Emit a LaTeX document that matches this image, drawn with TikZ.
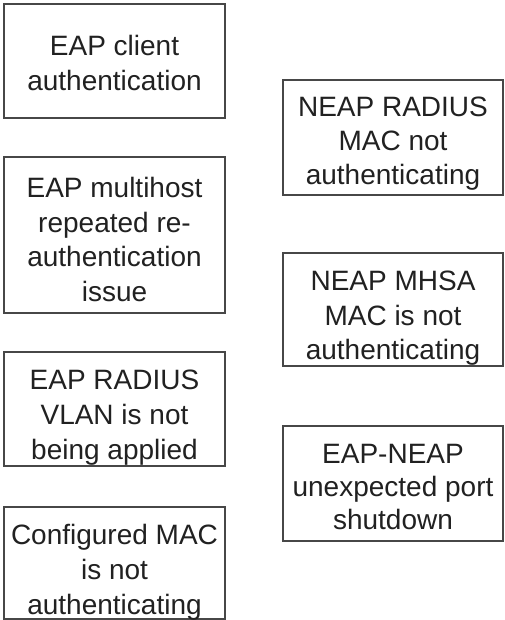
\documentclass[tikz,border=0pt]{standalone}
\usepackage{fontspec}
\setmainfont{Liberation Sans}
\definecolor{boxline}{gray}{0.28}
\definecolor{boxtext}{gray}{0.13}
\begin{document}
\begin{tikzpicture}[x=1pt,y=1pt,
  issuebox/.style={draw=boxline, line width=1.8pt, fill=white, inner sep=0pt},
  issuetext/.style={inner sep=0pt, text=boxtext, align=center, anchor=north,
    font=\fontsize{28}{#1}\selectfont},
  issuetext/.default=35,
]
\useasboundingbox (0,0) rectangle (504,-620);
% left column boxes
\node[issuebox, minimum width=221pt, minimum height=114pt] (b1) at (114.5,-61) {};
\node[issuebox, minimum width=221pt, minimum height=156pt] (b2) at (114.5,-235) {};
\node[issuebox, minimum width=221pt, minimum height=114pt] (b3) at (114.5,-409) {};
\node[issuebox, minimum width=221pt, minimum height=112pt] (b4) at (114.5,-563) {};
% right column boxes
\node[issuebox, minimum width=220pt, minimum height=115pt] (b5) at (393,-137.5) {};
\node[issuebox, minimum width=220pt, minimum height=113pt] (b6) at (393,-309.5) {};
\node[issuebox, minimum width=220pt, minimum height=115pt] (b7) at (393,-483.5) {};
% texts (north = first baseline - cap height)
\node[issuetext=35]   (t1) at (114.5,-34.9)  {EAP client\\authentication};
\node[issuetext=34.7] (t2) at (114.5,-176.9) {EAP multihost\\repeated re-\\authentication\\issue};
\node[issuetext=35]   (t3) at (114.5,-369.9) {EAP RADIUS\\VLAN is not\\being applied};
\node[issuetext=35]   (t4) at (114.5,-523.9) {Configured MAC\\is not\\authenticating};
\node[issuetext=34]   (t5) at (393,-96.9)    {NEAP RADIUS\\MAC not\\authenticating};
\node[issuetext=34.5] (t6) at (393,-270.9)   {NEAP MHSA\\MAC is not\\authenticating};
\node[issuetext=33]   (t7) at (393,-443.9)   {EAP-NEAP\\unexpected port\\shutdown};
\end{tikzpicture}
\end{document}
